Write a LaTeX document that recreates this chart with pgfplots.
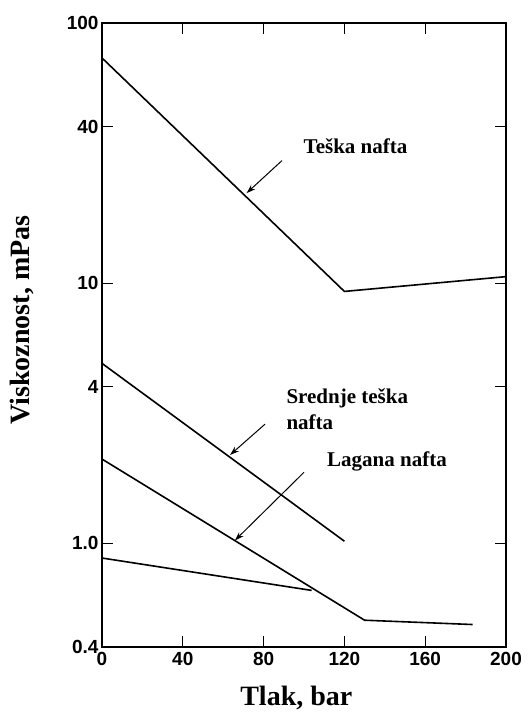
\documentclass[border=0pt]{standalone}
\usepackage{fontspec}
\setmainfont{Liberation Serif}
\setsansfont{Liberation Sans}
\usepackage{pgfplots}
\pgfplotsset{compat=1.18}
\usetikzlibrary{arrows.meta}
\begin{document}
\begin{tikzpicture}
\begin{axis}[
  scale only axis,
  width=404pt, height=624pt,
  ymode=log,
  xmin=0, xmax=200, ymin=0.4, ymax=100,
  xtick={0,40,80,120,160,200},
  ytick={0.4,1,4,10,40,100},
  yticklabels={0.4,1.0,4,10,40,100},
  minor ytick={},
  log basis y=10,
  /pgf/number format/assume math mode=true,
  ticklabel style={font=\fontsize{19}{22}\selectfont\sffamily\bfseries},
  xticklabel style={yshift=-2pt},
  axis line style={line width=1.8pt},
  major tick length=11pt,
  tick style={line width=1.2pt, black},
  every minor tick/.style={draw=none},
  tick align=inside,
  xlabel={Tlak, bar},
  ylabel={Viskoznost, mPas},
  label style={font=\fontsize{28}{32}\selectfont\bfseries},
  xlabel style={at={(axis description cs:0.481,-0.082)}, anchor=center},
  ylabel style={at={(axis description cs:-0.198,0.524)}, anchor=center},
  clip=false,
]
\addplot[black, line width=1.6pt] coordinates {(0,73.4) (120,9.3) (200,10.6)};
\addplot[black, line width=1.6pt] coordinates {(0,4.92) (120,1.02)};
\addplot[black, line width=1.6pt] coordinates {(0,2.11) (130,0.507) (183.5,0.488)};
\addplot[black, line width=1.6pt] coordinates {(0,0.879) (103.8,0.66)};

\node[font=\fontsize{21}{26}\selectfont\bfseries, anchor=center] at (axis cs:125.5,33.7) {Teška nafta};
\node[font=\fontsize{21}{26}\selectfont\bfseries, anchor=west, align=left] at (axis cs:89.6,3.29) {Srednje teška\\nafta};
\node[font=\fontsize{21}{26}\selectfont\bfseries, anchor=center] at (axis cs:141.1,2.062) {Lagana nafta};

\draw[-{Stealth[length=9pt,width=6pt]}, line width=1pt] (axis cs:89.1,29.6) -- (axis cs:71.6,22.2);
\draw[-{Stealth[length=9pt,width=6pt]}, line width=1pt] (axis cs:80.7,2.874) -- (axis cs:63.4,2.188);
\draw[-{Stealth[length=9pt,width=6pt]}, line width=1pt] (axis cs:100,1.877) -- (axis cs:65.8,1.027);
\end{axis}
\pgfresetboundingbox
\path (-102pt,-66pt) rectangle (429pt,647pt);
\end{tikzpicture}
\end{document}
